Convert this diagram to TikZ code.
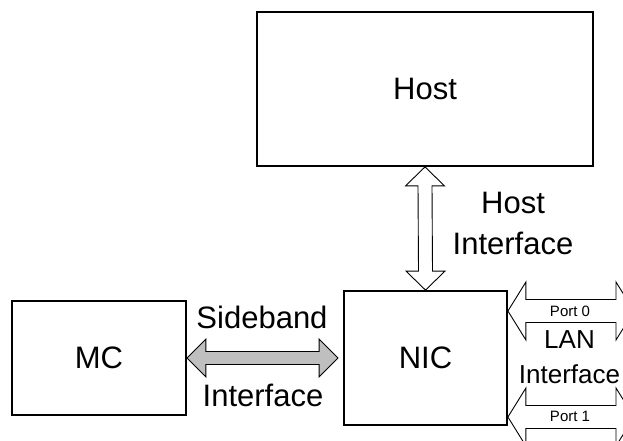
\documentclass[tikz,border=0pt]{standalone}
\usepackage{fontspec}
\setmainfont{Liberation Sans}
\usetikzlibrary{calc}

% fat double arrow, left tip #2 to right tip #3 (#4 head half, #5 shaft half, #6 head length)
\newcommand{\harrow}[6][]{%
  \draw[#1] (#2) -- ($(#2)+(#6,#4)$) -- ($(#2)+(#6,#5)$) -- ($(#3)+(-#6,#5)$) -- ($(#3)+(-#6,#4)$) -- (#3)
    -- ($(#3)+(-#6,-#4)$) -- ($(#3)+(-#6,-#5)$) -- ($(#2)+(#6,-#5)$) -- ($(#2)+(#6,-#4)$) -- cycle;}
% same, lower tip #2 up to upper tip #3
\newcommand{\varrow}[6][]{%
  \draw[#1] (#2) -- ($(#2)+(#4,-#6)$) -- ($(#2)+(#5,-#6)$) -- ($(#3)+(#5,#6)$) -- ($(#3)+(#4,#6)$) -- (#3)
    -- ($(#3)+(-#4,#6)$) -- ($(#3)+(-#5,#6)$) -- ($(#2)+(-#5,-#6)$) -- ($(#2)+(-#4,-#6)$) -- cycle;}

\tikzset{
  block/.style={draw, line width=1.8pt, inner sep=0pt, font=\fontsize{31}{37}\selectfont},
  lbl/.style={font=\fontsize{31}{41}\selectfont, align=center, inner sep=0pt},
  lanlbl/.style={font=\fontsize{26}{35}\selectfont, align=center, inner sep=0pt},
  portlbl/.style={font=\fontsize{15}{18}\selectfont, inner sep=0pt},
  fat/.style={draw, line width=0.9pt, line join=miter, fill=white},
  fatgray/.style={fat, fill=black!25}
}

\begin{document}
\begin{tikzpicture}[x=1pt, y=-1pt]
\useasboundingbox (0,0) rectangle (623,441);
\clip (0,0) rectangle (623,441);

\node[block, minimum width=336pt, minimum height=154pt] (host) at (425,89) {Host};
\node[block, minimum width=163pt, minimum height=134pt] (nic) at (425.5,358) {NIC};
\node[block, minimum width=174pt, minimum height=114pt] (mc) at (99,358) {MC};

% host interface
\varrow[fat]{nic.north}{host.south}{19.5}{7}{19}
\node[lbl] (hostif) at (513,223) {Host\\Interface};

% sideband
\coordinate (sbend) at ($(nic.west)+(-5,0)$);
\harrow[fatgray]{mc.east}{sbend}{19}{6.5}{19}
\node[lbl, anchor=base] (sbtop) at (262,328) {Sideband};
\node[lbl, anchor=base] (sbbot) at (263,406) {Interface};

% LAN ports, running off the right edge
\coordinate (p0out) at (634,311);
\coordinate (p1out) at (634,417);
\coordinate (p0in) at (nic.east |- p0out);
\coordinate (p1in) at (nic.east |- p1out);
\harrow[fat]{p0in}{p0out}{29}{11.5}{18}
\harrow[fat]{p1in}{p1out}{29}{11.5}{18}
\node[portlbl] (port0) at (570,311) {Port 0};
\node[portlbl] (port1) at (570,416) {Port 1};
\node[lanlbl] (lan) at (569.5,357) {LAN\\Interface};
\end{tikzpicture}
\end{document}
